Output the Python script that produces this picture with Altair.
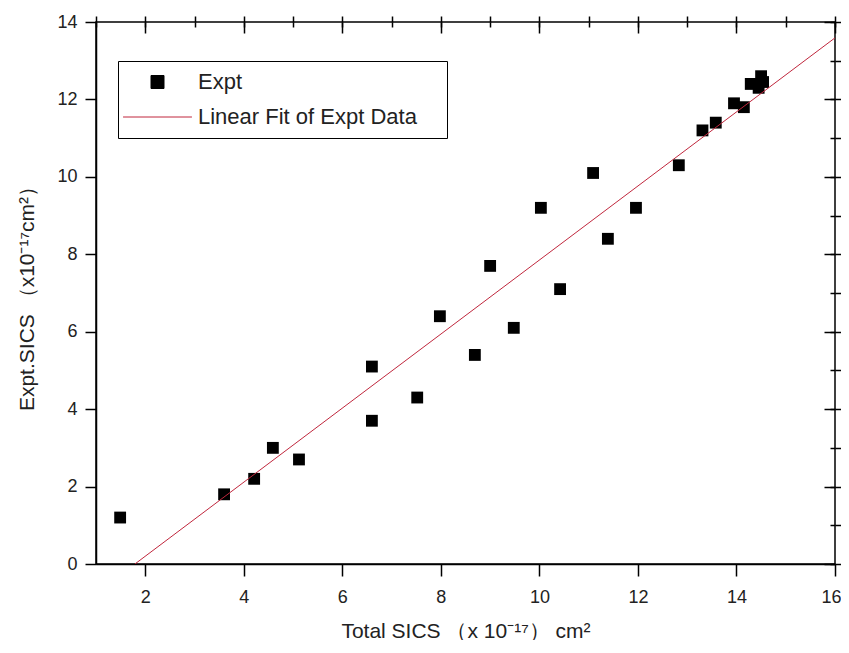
import altair as alt
import pandas as pd

# ---- data ----
x_vals = [1.49, 3.60, 4.21, 4.59, 5.12, 6.60, 6.60, 7.52, 7.98, 8.69, 9.00, 9.48, 10.03,
          10.42, 11.09, 11.39, 11.96, 12.83, 13.31, 13.58, 13.95, 14.15, 14.29, 14.45, 14.50, 14.54]
y_vals = [1.2, 1.8, 2.2, 3.0, 2.7, 5.1, 3.7, 4.3, 6.4, 5.4, 7.7, 6.1, 9.2,
          7.1, 10.1, 8.4, 9.2, 10.3, 11.2, 11.4, 11.9, 11.8, 12.4, 12.3, 12.6, 12.45]
fit_x = [1.79, 16.0]
fit_y = [0.0, 13.59]
series_names = ["Expt", "Linear Fit of Expt Data"]
x_major = [2, 4, 6, 8, 10, 12, 14, 16]
x_minor = list(range(1, 17))
y_major = [0, 2, 4, 6, 8, 10, 12, 14]
y_minor = list(range(0, 15))
x_title = "Total SICS （x 10⁻¹⁷） cm²"
y_title = "Expt.SICS （x10⁻¹⁷cm²）"

W, H = 739, 542
FONT = "Liberation Sans"
LINE_COLOR = "#c0273d"
TXT = "#222222"

pts = pd.DataFrame({"x": x_vals, "y": y_vals, "series": series_names[0]})
fit = pd.DataFrame({"x": fit_x, "y": fit_y, "series": series_names[1]})


def xs():
    return alt.Scale(domain=[1, 16], nice=False, zero=False)


def ys():
    return alt.Scale(domain=[0, 14], nice=False, zero=False)


color_scale = alt.Scale(domain=series_names, range=["black", LINE_COLOR])
shape_scale = alt.Scale(domain=series_names, range=["square", "M-5.3,0H5.3"])

legend = alt.Legend(
    orient="none", legendX=22, legendY=39,
    title="\u00a0", titleOrient="right", titlePadding=20, titleFontSize=6,
    strokeColor="black", fillColor="white", padding=10,
    labelFont=FONT, labelFontSize=22, labelColor=TXT, labelLimit=600,
    symbolSize=169, symbolStrokeWidth=1, symbolOffset=18.5, labelOffset=29.5,
    symbolOpacity=1, rowPadding=13,
)

points = alt.Chart(pts).mark_point(filled=True, size=140, opacity=1).encode(
    x=alt.X("x:Q", scale=xs(), axis=alt.Axis(
        values=x_major, tickSize=12, labelPadding=12, labelFontSize=18,
        labelFlush=True, labelFlushOffset=6,
        title=x_title, titleFontSize=21, titlePadding=14, domainWidth=1.5)),
    y=alt.Y("y:Q", scale=ys(), axis=alt.Axis(
        values=y_major, tickSize=11, labelPadding=8, labelFontSize=18, labelFlush=False,
        title=y_title, titleFontSize=21, titlePadding=19, domainWidth=1.5)),
    color=alt.Color("series:N", scale=color_scale, legend=legend),
    shape=alt.Shape("series:N", scale=shape_scale, legend=legend),
)

line = alt.Chart(fit).mark_line(strokeWidth=1, clip=True).encode(
    x=alt.X("x:Q", scale=xs(), axis=None),
    y=alt.Y("y:Q", scale=ys(), axis=None),
    color=alt.Color("series:N", scale=color_scale, legend=legend),
)

minor_bl = alt.Chart(pts).mark_point(opacity=0).encode(
    x=alt.X("x:Q", scale=xs(), axis=alt.Axis(values=x_minor, tickSize=6, labels=False,
                                             domain=False, title=None)),
    y=alt.Y("y:Q", scale=ys(), axis=alt.Axis(values=y_minor, tickSize=6, labels=False,
                                             domain=False, title=None)),
)

major_tr = alt.Chart(pts).mark_point(opacity=0).encode(
    x=alt.X("x:Q", scale=xs(), axis=alt.Axis(orient="bottom", offset=-H, values=x_major,
                                             tickSize=11, labels=False, domain=False, title=None)),
    y=alt.Y("y:Q", scale=ys(), axis=alt.Axis(orient="left", offset=-W, values=y_major,
                                             tickSize=11, labels=False, domain=False, title=None)),
)

minor_tr = alt.Chart(pts).mark_point(opacity=0).encode(
    x=alt.X("x:Q", scale=xs(), axis=alt.Axis(orient="bottom", offset=-H, values=x_minor,
                                             tickSize=5, labels=False, domain=False, title=None)),
    y=alt.Y("y:Q", scale=ys(), axis=alt.Axis(orient="left", offset=-W, values=y_minor,
                                             tickSize=5, labels=False, domain=False, title=None)),
)

chart = alt.layer(points, line, minor_bl, major_tr, minor_tr).resolve_scale(
    x="independent", y="independent"
).properties(
    width=W, height=H,
    autosize=alt.AutoSizeParams(type="none"),
    padding={"left": 88, "top": 14, "right": 6, "bottom": 76},
).configure_axis(
    labelFont=FONT, titleFont=FONT, labelColor=TXT, titleColor=TXT,
    tickColor="black", domainColor="black", grid=False, tickWidth=1.5,
    titleFontWeight="normal",
).configure_view(stroke="black", strokeWidth=1.5)

chart.save("out.html", embed_options={"renderer": "svg", "actions": False})
